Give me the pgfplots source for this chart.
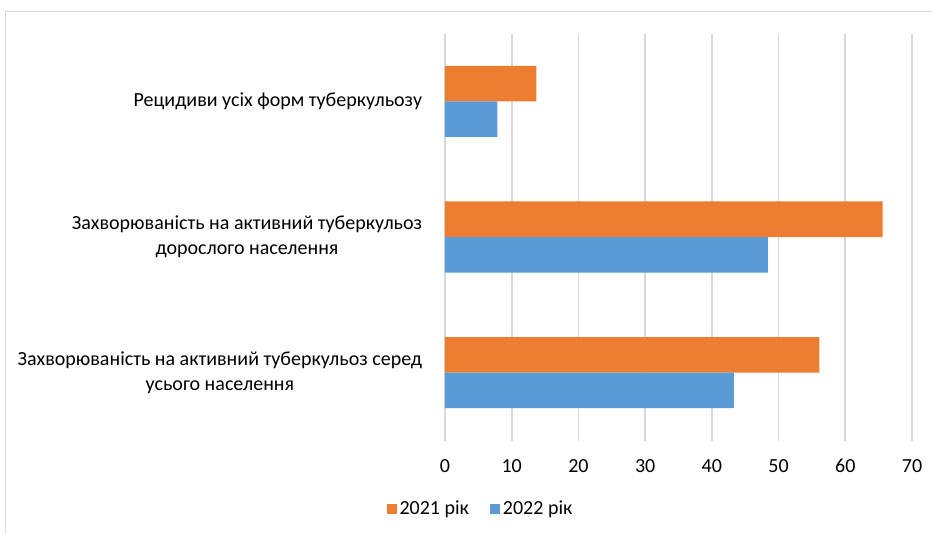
\documentclass[border=0pt]{standalone}
\usepackage{pgfplots}
\pgfplotsset{compat=1.18}
\usepackage{fontspec}
\setmainfont{Carlito}
\definecolor{orng}{HTML}{ED7D31}
\definecolor{blu}{HTML}{5B9BD5}
\definecolor{grd}{HTML}{D9D9D9}
\begin{document}
\begin{tikzpicture}[x=0.75pt,y=0.75pt]
\useasboundingbox (0,0) rectangle (932,534);
\draw[grd] (5,-10) -- (5,523) -- (950,523);
\begin{axis}[
  at={(333.75pt,70.1pt)}, anchor=south west,
  scale only axis, width=350.25pt, height=305.25pt,
  xbar, bar width=0.262,
  xmin=0, xmax=70, ymin=-0.5, ymax=2.5,
  xtick={0,10,...,70},
  ytick={0,1,2},
  yticklabels={{Захворюваність на активний туберкульоз серед\\усього населення},{Захворюваність на активний туберкульоз\\дорослого населення},{Рецидиви усіх форм туберкульозу}},
  axis line style={draw=none},
  major tick length=0pt,
  xmajorgrids, grid style={grd, line width=1.2pt},
  tick label style={font=\fontsize{15}{18.5}\selectfont},
  /pgf/number format/assume math mode=true,
  yticklabel style={align=center, inner sep=0pt, xshift=-17pt},
  xticklabel style={inner sep=0pt, yshift=-14pt},
  legend style={at={(0.077,-0.168)}, anchor=center, draw=none, legend columns=2,
    font=\fontsize{15}{18}\selectfont, /tikz/every even column/.append style={column sep=14pt}},
  legend image code/.code={\fill[#1] (-1.5pt,-3.8pt) rectangle (6pt,3.8pt);},
]
\addplot[fill=orng, draw=none, bar shift=0.131] coordinates {(56.1,0) (65.6,1) (13.7,2)};
\addplot[fill=blu, draw=none, bar shift=-0.131] coordinates {(43.3,0) (48.4,1) (7.85,2)};
\legend{2021 рік, 2022 рік}
\end{axis}
\end{tikzpicture}
\end{document}
